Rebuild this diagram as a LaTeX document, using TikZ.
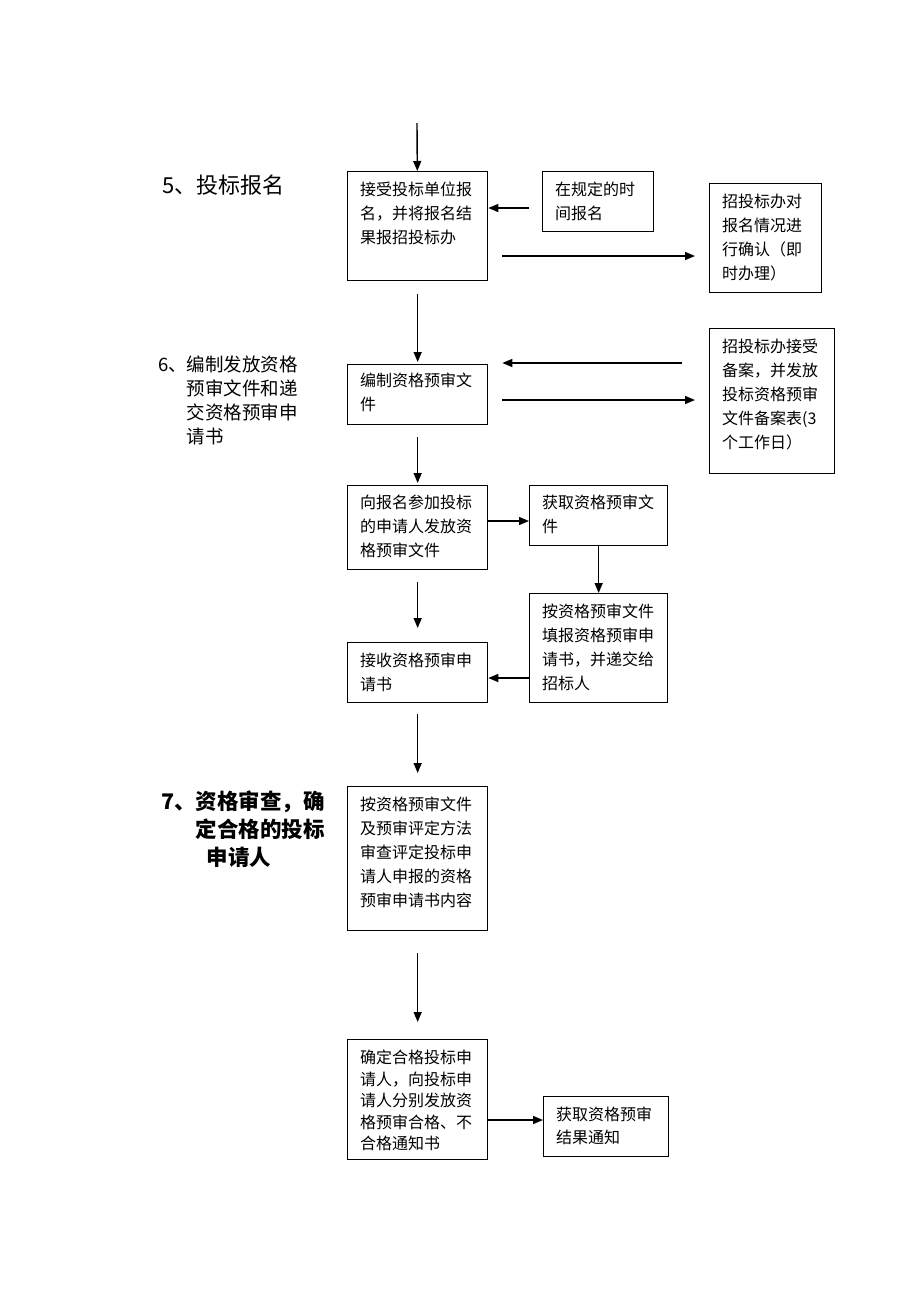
\documentclass[tikz,border=0pt]{standalone}
\usepackage{fontspec}
\newfontfamily\cjk{Noto Sans CJK SC}
\usetikzlibrary{arrows.meta}

\begin{document}
\begin{tikzpicture}[x=1pt, y=-1pt, >={Triangle[length=10pt,width=8pt]}]
	\useasboundingbox (0,0) rectangle (920,1302);
		\begin{scope}
		\tikzstyle{every node}=[inner sep=0pt]
		\tikzstyle{box}=[draw, line width=1.3pt, anchor=north west]
		\tikzstyle{txt}=[anchor=north west, align=left, inner xsep=13pt, inner ysep=11pt, font=\cjk\fontsize{16}{24}\selectfont]
		\tikzstyle{head}=[anchor=north west, align=left]
		\tikzstyle{arr}=[->, line width=1.4pt]

				% stage headings
				\node[head, anchor=west, font=\cjk\fontsize{22}{26}\selectfont] (H5) at (162,185) {5、投标报名};
				\node[head, font=\cjk\fontsize{18.5}{24}\selectfont] (H6) at (158,356) {6、编制发放资格\\\phantom{6、}预审文件和递\\\phantom{6、}交资格预审申\\\phantom{6、}请书};
				\node[head, font=\cjk\bfseries\fontsize{21.5}{28}\selectfont] (H7) at (161,791) {7、资格审查，确\\\phantom{7、}定合格的投标\\\phantom{7、}\hspace{11pt}申请人};

				% boxes
				\node[box, minimum width=140, minimum height=109] (B1) at (347,171) {};
				\node[box, minimum width=111, minimum height=60] (B2) at (542,171) {};
				\node[box, minimum width=112, minimum height=109] (B3) at (709,183) {};
				\node[box, minimum width=140, minimum height=60] (B4) at (347,364) {};
				\node[box, minimum width=125, minimum height=145] (B5) at (709,328) {};
				\node[box, minimum width=140, minimum height=84] (B6) at (347,485) {};
				\node[box, minimum width=138, minimum height=60] (B7) at (529,485) {};
				\node[box, minimum width=138, minimum height=109] (B8) at (529,593) {};
				\node[box, minimum width=140, minimum height=60] (B9) at (347,642) {};
				\node[box, minimum width=140, minimum height=144] (B10) at (347,786) {};
				\node[box, minimum width=140, minimum height=120] (B11) at (347,1039) {};
				\node[box, minimum width=125, minimum height=60] (B12) at (543,1096) {};

				% box texts
				\node[txt] (T1) at (B1.north west) {接受投标单位报\\名，并将报名结\\果报招投标办};
				\node[txt] (T2) at (B2.north west) {在规定的时\\间报名};
				\node[txt] (T3) at (B3.north west) {招投标办对\\报名情况进\\行确认（即\\时办理）};
				\node[txt, inner ysep=9pt] (T4) at (B4.north west) {编制资格预审文\\件};
				\node[txt] (T5) at (B5.north west) {招投标办接受\\备案，并发放\\投标资格预审\\文件备案表(3\\个工作日）};
				\node[txt, inner ysep=10pt] (T6) at (B6.north west) {向报名参加投标\\的申请人发放资\\格预审文件};
				\node[txt, inner ysep=10pt] (T7) at (B7.north west) {获取资格预审文\\件};
				\node[txt] (T8) at (B8.north west) {按资格预审文件\\填报资格预审申\\请书，并递交给\\招标人};
				\node[txt] (T9) at (B9.north west) {接收资格预审申\\请书};
				\node[txt] (T10) at (B10.north west) {按资格预审文件\\及预审评定方法\\审查评定投标申\\请人申报的资格\\预审申请书内容};
				\node[txt, font=\cjk\fontsize{16}{21.5}\selectfont] (T11) at (B11.north west) {确定合格投标申\\请人，向投标申\\请人分别发放资\\格预审合格、不\\合格通知书};
				\node[txt, font=\cjk\fontsize{16}{23}\selectfont] (T12) at (B12.north west) {获取资格预审\\结果通知};

				\coordinate (in) at (417,123);

				\draw[arr] (in) -- (B1);
				\draw[arr, shorten <=13pt] (B2.west |- 0,208) -- (B1.east |- 0,208);
				\draw[arr, shorten <=14pt, shorten >=14pt] (B1.east |- 0,256) -- (B3.west |- 0,256);
				\draw[arr, shorten <=13pt, shorten >=2pt] (B1) -- (B4);
				\draw[arr, shorten <=27pt, shorten >=14pt] (B5.west |- 0,363) -- (B4.east |- 0,363);
				\draw[arr, shorten <=14pt, shorten >=14pt] (B4.east |- 0,400) -- (B5.west |- 0,400);
				\draw[arr, shorten <=12pt, shorten >=2pt] (B4) -- (B6);
				\draw[arr] (B6.east |- 0,521) -- (B7.west |- 0,521);
				\draw[arr] (B7) -- (B8);
				\draw[arr, shorten <=12pt, shorten >=14pt] (B6) -- (B9);
				\draw[arr] (B8.west |- 0,678) -- (B9.east |- 0,678);
				\draw[arr, shorten <=11pt, shorten >=13pt] (B9) -- (B10);
				\draw[arr, shorten <=22pt, shorten >=17pt] (B10) -- (B11);
				\draw[arr] (B11.east |- 0,1120) -- (B12.west |- 0,1120);
		\end{scope}
\end{tikzpicture}
\end{document}
